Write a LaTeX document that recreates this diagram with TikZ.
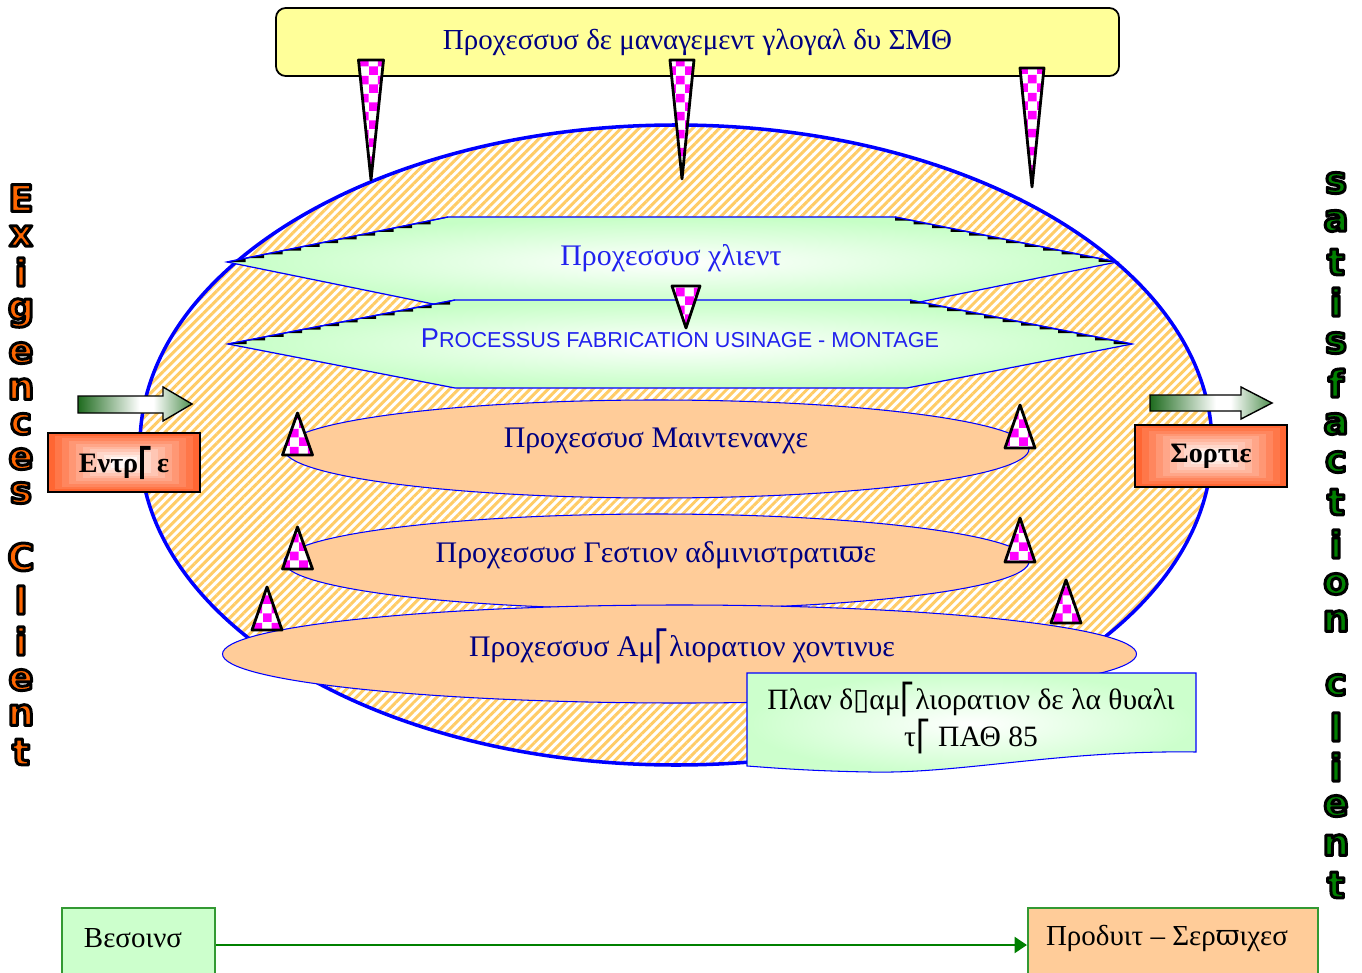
\documentclass[tikz,border=0pt]{standalone}
\usepackage{fontspec}
\setmainfont{Liberation Serif}
\newfontfamily\labelsans{Liberation Sans}
\newfontfamily\glyphsans{DejaVu Sans}
\newfontfamily\glyphserif{DejaVu Serif}
\newfontfamily\heavyfont{DejaVu Sans}
\usetikzlibrary{shapes.geometric, patterns, patterns.meta, arrows.meta, calc}

% colours
\definecolor{titleyellow}{HTML}{FFFF99}
\definecolor{navytext}{HTML}{000080}
\definecolor{hexgreen}{HTML}{C6FFC6}
\definecolor{peach}{HTML}{FFCC99}
\definecolor{stripe}{HTML}{FFCC66}
\definecolor{exorange}{HTML}{FF6600}
\definecolor{satgreen}{HTML}{008000}
\definecolor{boxorange}{HTML}{FF6633}
\definecolor{edgegreen}{HTML}{339933}
\definecolor{ardark}{HTML}{1E6B1E}
\definecolor{arlight}{HTML}{4F8F4F}
\definecolor{procblue}{HTML}{2222EE}
\definecolor{lineblue}{HTML}{0000FF}
\definecolor{plangreen}{HTML}{CCFFCC}

% checkered fill for the little spikes
\pgfdeclarepatternformonly{checks}{\pgfpointorigin}{\pgfqpoint{10pt}{10pt}}{\pgfqpoint{10pt}{10pt}}{%
  \pgfpathrectangle{\pgfpointorigin}{\pgfqpoint{5pt}{5pt}}%
  \pgfpathrectangle{\pgfqpoint{5pt}{5pt}}{\pgfqpoint{5pt}{5pt}}%
  \pgfusepath{fill}}

% horizontal green-white-green shading of the block arrows
\pgfdeclarehorizontalshading{arrowshade}{100bp}{color(0bp)=(ardark); color(25bp)=(ardark);
  color(52bp)=(white); color(58bp)=(white); color(75bp)=(arlight); color(100bp)=(arlight)}

\newcommand\pxu{0.02cm}
\newcommand\brk{{\glyphsans ⎡}}
\newcommand\vpi{{\glyphserif ϖ}}
\newcommand\tofu{{\glyphsans ▯}}
% letters filled in the current colour and stroked in black
\newcommand\outlined[1]{\special{pdf:code 0 0 0 RG 1.7 w 1 j 2 Tr}#1\special{pdf:code 0 Tr}}

% checkered spike: x, base y, tip y, half width
\newcommand\checkspike[4]{%
  \path[spikestyle] (#1-#4,#2) -- (#1+#4,#2) -- (#1,#3) -- cycle;}

% black stair steps under a sloped edge from (#1,#2) to (#3,#4), #3 > #1
\newcommand\stairedge[4]{%
  \pgfmathsetmacro\tslope{(#4-#2)/(#3-#1)}%
  \pgfmathtruncatemacro\tn{floor((#3-#1)/18.5)}%
  \foreach \j in {1,...,\tn}{%
    \pgfmathsetmacro\xl{#1+(\j-1)*18.5}%
    \pgfmathsetmacro\xr{\xl+18.5}%
    \pgfmathsetmacro\yl{#2+\tslope*(\xl-#1)}%
    \pgfmathsetmacro\yr{#2+\tslope*(\xr-#1)}%
    \pgfmathsetmacro\cx{\tslope<0 ? \xr : \xl}%
    \pgfmathsetmacro\cy{max(\yl,\yr)}%
    \fill[black] (\xl,\yl) -- (\xr,\yr) -- (\cx,\cy) -- cycle;}}

% box with stepped orange gradient: x0, y0, x1, y1
\newcommand\gradbox[4]{%
  \foreach \k in {0,...,9}{%
    \pgfmathsetmacro\fr{1-0.092*\k}%
    \pgfmathtruncatemacro\pc{100-10.5*\k}%
    \fill[boxorange!\pc!white]
      ({(#1+#3)/2-(#3-#1)/2*\fr},{(#2+#4)/2-(#4-#2)/2*\fr}) rectangle
      ({(#1+#3)/2+(#3-#1)/2*\fr},{(#2+#4)/2+(#4-#2)/2*\fr});}}

\begin{document}
\begin{tikzpicture}[x=0.02cm, y=-0.02cm,
  greek/.style={font=\fontsize{17}{19}\selectfont},
  spikestyle/.style={preaction={fill=white}, pattern=checks, pattern color=magenta,
    draw=black, line width=1.6pt, line join=round},
  bigell/.style={ellipse, inner sep=0pt, minimum width=1072*\pxu, minimum height=640*\pxu,
    preaction={fill=white}, pattern={Lines[angle=45,distance=3.6pt,line width=1.7pt]},
    pattern color=stripe, draw=lineblue, line width=2pt},
  procell/.style={ellipse, inner sep=0pt, fill=peach, draw=lineblue, line width=0.6pt},
  hexfill/.style={inner color=white, outer color=hexgreen, draw=lineblue, line width=0.7pt},
  titlebox/.style={draw=black, line width=1pt, rounded corners=5.5pt, fill=titleyellow,
    minimum width=843*\pxu, minimum height=68*\pxu, text=navytext,
    font=\fontsize{16.5}{18}\selectfont},
  ioframe/.style={draw=black, line width=1pt, inner sep=0pt,
    font=\fontsize{16}{18}\selectfont\bfseries},
  blockarrow/.style={shading=arrowshade, draw=black, line width=0.8pt},
  botbox/.style={draw=edgegreen, line width=1.2pt, inner sep=0pt, minimum height=74*\pxu},
  bottext/.style={font=\fontsize{16.5}{18}\selectfont},
  exlet/.style={text=exorange, font=\heavyfont\bfseries\fontsize{21}{21}\selectfont, inner sep=0pt},
  satlet/.style={text=satgreen, font=\heavyfont\bfseries\fontsize{21}{21}\selectfont, inner sep=0pt}
]
\useasboundingbox (0,0) rectangle (1362,973);

% overall scope of the company
\node[bigell] (scope) at (676,445) {};

% global management
\node[titlebox] (title) at (697.5,42) {Προχεσσυσ δε μαναγεμεντ γλογαλ δυ ΣΜΘ};
\checkspike{371}{60}{180}{12.5}
\checkspike{682}{60}{179}{12}
\checkspike{1032}{68}{187}{12}

% client process (hexagon)
\shadedraw[hexfill] (227,262) -- (448,217) -- (895,217) -- (1117,262) -- (895,307) -- (448,307) -- cycle;
\stairedge{227}{262}{448}{217}
\stairedge{895}{217}{1117}{262}
\draw[lineblue, line width=0.7pt] (227,262) -- (448,217) (895,217) -- (1117,262);
\node[greek, text=procblue] (client) at (671,258) {Προχεσσυσ χλιεντ};

% manufacturing process (hexagon)
\shadedraw[hexfill] (228,344) -- (455,300) -- (910,300) -- (1132,344) -- (907,388) -- (455,388) -- cycle;
\stairedge{228}{344}{455}{300}
\stairedge{910}{300}{1132}{344}
\draw[lineblue, line width=0.7pt] (228,344) -- (455,300) (910,300) -- (1132,344);
\node[text=procblue, font=\labelsans\fontsize{12.3}{14}\selectfont] (fab) at (680,338)
  {{\fontsize{15.5}{14}\selectfont P}ROCESSUS FABRICATION USINAGE - MONTAGE};
\checkspike{686}{286}{328}{14}

% support processes
\node[procell, minimum width=745*\pxu, minimum height=98*\pxu] (maint) at (656.5,449) {};
\node[greek, text=navytext] (maintlbl) at (656,441) {Προχεσσυσ Μαιντενανχε};
\checkspike{297.5}{455}{413}{15}
\checkspike{1020}{448}{405}{15}

\node[procell, minimum width=745*\pxu, minimum height=95*\pxu] (admin) at (656.5,561.5) {};
\node[greek, text=navytext] (adminlbl) at (656,555) {Προχεσσυσ Γεστιον αδμινιστρατι\vpi ε};
\checkspike{297.5}{569}{527}{15}
\checkspike{1020}{562}{518}{15}

\node[procell, minimum width=914*\pxu, minimum height=98*\pxu] (improve) at (679.5,654) {};
\node[greek, text=navytext] (improvelbl) at (682,646) {Προχεσσυσ Αμ\brk λιορατιον χοντινυε};
\checkspike{267}{630}{587}{15}
\checkspike{1066}{623}{580}{15}

% quality plan (document shape)
\shadedraw[inner color=white, outer color=plangreen, draw=lineblue, line width=0.6pt]
  (747,673) -- (1196,673) -- (1196,752)
  .. controls (1060,750) and (960,774) .. (870,772)
  .. controls (810,771) and (775,768) .. (747,766) -- cycle;
\node[align=center, text=black, font=\fontsize{16.8}{19}\selectfont] (plan) at (971,718)
  {Πλαν δ\tofu αμ\brk λιορατιον δε λα θυαλι\\τ\brk\ ΠΑΘ 85};

% input side
\shadedraw[blockarrow] (78,396) -- (163,396) -- (163,387) -- (192,404) -- (163,421) -- (163,413) -- (78,413) -- cycle;
\gradbox{48}{433}{200}{492}
\node[ioframe, minimum width=152*\pxu, minimum height=59*\pxu] (entree) at (124,462.5) {Εντρ\brk\,ε};

% output side
\shadedraw[blockarrow] (1150,395) -- (1241,395) -- (1241,387) -- (1272,403) -- (1241,419) -- (1241,411) -- (1150,411) -- cycle;
\gradbox{1135}{425}{1287}{487}
\node[ioframe, minimum width=152*\pxu, minimum height=62*\pxu] (sortie) at (1211,456) {Σορτιε};

% vertical captions
\foreach \ch/\yy in {E/198, x/236, i/272, g/313, e/353, n/389, c/424, e/459, s/493,
                     C/557, l/600, i/641, e/680, n/715, t/752}
  \node[exlet] (L\yy) at (21,\yy) {\outlined{\ch}};
\foreach \ch/\yy in {s/183, a/221, t/262, i/302, s/343, f/383, a/424, c/462, t/502, i/544,
                     o/584, n/621, c/685, l/727, i/767, e/806, n/845, t/885}
  \node[satlet] (R\yy) at (1336,\yy) {\outlined{\ch}};

% needs to products
\node[botbox, fill=plangreen, minimum width=153*\pxu] (needs) at (138.5,945) {};
\node[bottext] (needslbl) at (133,938) {Βεσοινσ};
\node[botbox, fill=peach, minimum width=290*\pxu] (prod) at (1173,945) {};
\node[bottext] (prodlbl) at (1167,938) {Προδυιτ – Σερ\vpi ιχεσ};
\draw[satgreen, line width=1.5pt, -{Triangle[length=7pt,width=9pt]}] (needs) -- (prod);
\end{tikzpicture}
\end{document}
